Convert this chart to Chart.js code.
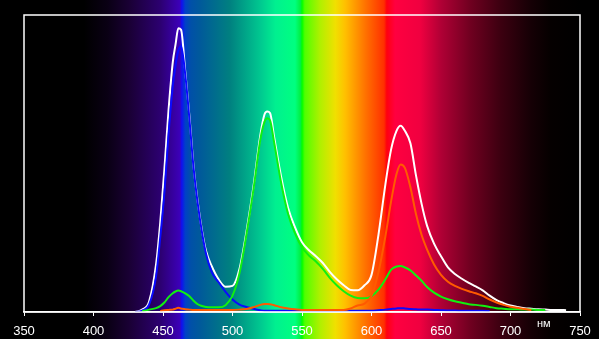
<!DOCTYPE html>
<html>
<head>
<meta charset="utf-8">
<script src="https://cdn.jsdelivr.net/npm/chart.js@4/dist/chart.umd.min.js"></script>
<style>
  html, body { margin: 0; padding: 0; background: #000; }
  #wrap { width: 599px; height: 339px; position: relative; }
</style>
</head>
<body>
<div id="wrap"><canvas id="spectrum"></canvas></div>
<script>
// Wavelengths (nm) at which the curves were read
const wavelengths = [430, 435, 440, 445, 448, 451, 454, 457, 459, 461, 463, 466, 469, 472, 475, 478, 481, 485, 490, 495,
  500, 505, 510, 515, 520, 523, 525, 527, 530, 535, 540, 545, 550, 555, 560, 565, 570, 575, 580, 585,
  590, 595, 600, 605, 610, 614, 618, 621, 624, 628, 632, 636, 640, 645, 650, 655, 660, 665, 670, 675,
  680, 685, 690, 695, 700, 705, 710, 715, 720, 725, 730, 735, 740];

const whiteVals = [0, 0.8, 3.5, 16, 30, 48, 68, 84, 90, 95.5, 95, 81, 66, 49, 37, 27.5, 20.5, 15.5, 11, 8.5,
  8.8, 14.5, 27, 42, 59.5, 66.5, 67.5, 67, 58.8, 45.5, 35, 28.5, 23.5, 20.8, 18.8, 16.5, 13.5, 11, 9, 7.4,
  7.3, 9, 12.5, 26, 43, 54.5, 61, 62.7, 61, 56.8, 46, 36.5, 29, 23, 18.8, 15, 12.8, 11.2, 9.8, 8.6,
  7.3, 5.5, 4, 3, 2.2, 1.7, 1.3, 1.1, 0.9, 0.8, 0.7, 0.7, 0.6];

const blueVals = [0, 0.5, 2.5, 12, 25, 40, 60, 76, 83, 88, 89.5, 80, 65, 48.5, 36.5, 27, 19.5, 13.5, 10, 6.8,
  4.2, 2.5, 1.7, 1.1, 0.6, 0.4, 0.4, 0.4, 0.4, 0.4, 0.4, 0.4, 0.4, 0.4, 0.4, 0.4, 0.4, 0.4, 0.4, 0.4,
  0.4, 0.4, 0.4, 0.6, 0.8, 1.0, 1.2, 1.3, 1.2, 1.0, 0.9, 0.8, 0.8, 0.7, 0.6, 0.5, 0.5, 0.4, 0.4, 0.4,
  0.4, 0.3, null, null, null, null, null, null, null, null, null, null, null];

const greenVals = [null, 0.2, 0.8, 1.3, 2, 3.2, 5, 6.3, 6.9, 7.2, 7, 6.3, 5.3, 3.8, 2.6, 2, 1.7, 1.6, 1.6, 2.3,
  5.5, 13, 26, 41, 58, 64, 65.2, 64.5, 57, 43.5, 33, 26.5, 21.8, 19, 17, 14.5, 11.5, 9, 7, 5.5,
  4.7, 4.6, 5.3, 7.5, 11, 14.2, 15.3, 15.5, 15, 14, 12.3, 10.5, 8.4, 6.5, 5.2, 4.3, 3.6, 3.1, 2.6, 2.4,
  2.1, 1.7, 1.3, 1.1, 0.9, 0.9, 0.8, 0.8, 0.7, 0.7, null, null, null];

const redVals = [null, null, null, null, 0.3, 0.6, 0.7, 0.8, 1.1, 1.4, 1.2, 0.9, 0.8, 0.7, 0.7, 0.7, 0.7, 0.7, 0.7, 0.7,
  0.7, 0.8, 1.0, 1.6, 2.4, 2.7, 2.7, 2.6, 2.3, 1.6, 1.2, 0.9, 0.7, 0.7, 0.7, 0.7, 0.7, 0.7, 0.7, 1.2,
  2.2, 2.8, 5.5, 13.5, 25.5, 37, 46.5, 49.7, 48.5, 42, 33, 26, 21, 16, 12.5, 10.2, 8.8, 7.8, 7, 6.3,
  5.4, 4.2, 3.2, 2.4, 1.8, 1.4, 1.0, 0.7, null, null, null, null, null];

const xTicks = [350, 400, 450, 500, 550, 600, 650, 700, 750];
const unitLabel = "нм";

// Spectrum background colours by wavelength
const bandStops = [
  [350, "#000000"], [393, "#000000"], [410, "#0a0014"], [426, "#1a0035"], [448, "#2c0070"],
  [462, "#3c00b8"], [463.5, "#1010f0"], [466, "#0040c8"], [470, "#0050a8"], [477, "#005a9a"],
  [498, "#008080"], [520, "#00c890"], [531, "#00f090"], [545, "#00ff80"], [549, "#00f040"],
  [550, "#00ff00"], [552, "#50ff00"], [563, "#b0f000"], [574, "#f0e000"], [581, "#ffc000"],
  [596, "#ff7000"], [609, "#ff3000"], [611, "#ff0010"], [617, "#ff0040"], [635, "#f00040"],
  [650, "#b00035"], [671, "#700020"], [693, "#3c0010"], [715, "#150005"], [729, "#050000"],
  [750, "#000000"]
];

const pts = vals => wavelengths.map((w, i) => ({ x: w, y: vals[i] }));

const spectrumBg = {
  id: "spectrumBg",
  beforeDraw(chart) {
    const { ctx, width, height, scales: { x } } = chart;
    const x0 = x.getPixelForValue(350), x1 = x.getPixelForValue(750);
    const g = ctx.createLinearGradient(x0, 0, x1, 0);
    bandStops.forEach(([w, c]) => g.addColorStop((w - 350) / 400, c));
    ctx.save();
    ctx.fillStyle = "#000";
    ctx.fillRect(0, 0, width, height);
    ctx.fillStyle = g;
    ctx.fillRect(x0, 0, x1 - x0, height);
    ctx.restore();
  },
  afterDraw(chart) {
    const { ctx, chartArea: a, scales: { x } } = chart;
    ctx.save();
    ctx.strokeStyle = "#fff";
    ctx.lineWidth = 1.5;
    ctx.strokeRect(a.left, a.top, a.right - a.left, a.bottom - a.top);
    ctx.fillStyle = "#fff";
    ctx.font = "11px 'Liberation Sans', Arial, sans-serif";
    ctx.textAlign = "center";
    ctx.textBaseline = "alphabetic";
    ctx.fillText(unitLabel, x.getPixelForValue(724), a.bottom + 15);
    ctx.restore();
  }
};

const line = (vals, color) => ({
  data: pts(vals),
  borderColor: color,
  borderWidth: 2,
  pointRadius: 0,
  fill: false,
  cubicInterpolationMode: "monotone",
});

new Chart(document.getElementById("spectrum"), {
  type: "line",
  data: {
    datasets: [
      line(redVals, "#ff5a00"),
      line(greenVals, "#10f010"),
      line(blueVals, "#0a0aff"),
      line(whiteVals, "#ffffff"),
    ],
  },
  options: {
    responsive: true,
    maintainAspectRatio: false,
    animation: false,
    layout: { padding: { left: 24, right: 19, top: 15, bottom: 0 } },
    plugins: { legend: { display: false }, tooltip: { enabled: false } },
    scales: {
      x: {
        type: "linear",
        min: 350,
        max: 750,
        afterBuildTicks: s => { s.ticks = xTicks.map(v => ({ value: v })); },
        afterFit: s => { s.height = 27; },
        ticks: {
          color: "#fff",
          padding: 8,
          maxRotation: 0,
          font: { family: "'Liberation Sans', Arial, sans-serif", size: 13 },
        },
        grid: { drawOnChartArea: false, drawTicks: true, tickLength: 4, color: "#fff" },
        border: { display: true, color: "#fff", width: 1.5 },
      },
      y: { display: false, min: 0, max: 100 },
    },
  },
  plugins: [spectrumBg],
});
</script>
</body>
</html>
